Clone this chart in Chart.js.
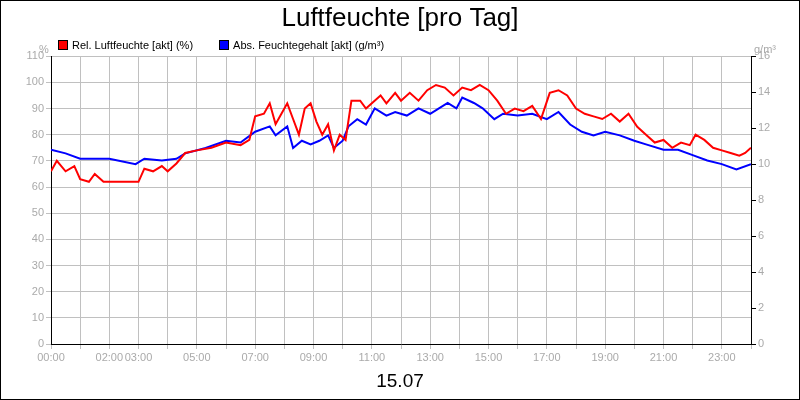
<!DOCTYPE html>
<html><head><meta charset="utf-8">
<script src="https://cdn.jsdelivr.net/npm/chart.js@4"></script>
<style>html,body{margin:0;padding:0;background:#fff}#w{width:798px;height:398px;border:1px solid #000;position:relative;font-family:"Liberation Sans",Arial}
#lg{position:absolute;left:57px;top:38px;font-size:11px;color:#000;white-space:nowrap}
#lg span.b{display:inline-block;width:8px;height:8px;border:1px solid #000;margin-right:4px;vertical-align:-1px}
.u{position:absolute;top:42px;font-size:11px;color:#aaa}
</style>
</head><body><div id="w"><canvas id="c" width="798" height="398"></canvas>
<div id="lg"><span class="b" style="background:#f00"></span>Rel. Luftfeuchte [akt] (%)<span style="display:inline-block;width:26px"></span><span class="b" style="background:#00f"></span>Abs. Feuchtegehalt [akt] (g/m³)</div>
<div class="u" style="left:38px">%</div><div class="u" style="left:753px">g/m³</div></div>
<script>
const relHours=[0,0.2,0.5,0.8,1.0,1.3,1.5,1.8,2.5,3.0,3.2,3.5,3.8,4.0,4.3,4.6,5.0,5.5,6.0,6.5,6.8,7.0,7.3,7.5,7.7,7.9,8.1,8.3,8.5,8.7,8.9,9.1,9.3,9.5,9.7,9.9,10.1,10.3,10.6,10.8,11.0,11.3,11.5,11.8,12.0,12.3,12.6,12.9,13.2,13.5,13.8,14.1,14.4,14.7,15.0,15.3,15.6,15.9,16.2,16.5,16.8,17.1,17.4,17.7,18.0,18.3,18.6,18.9,19.2,19.5,19.8,20.1,20.4,20.7,21.0,21.3,21.6,21.9,22.1,22.4,22.7,23.0,23.3,23.6,23.8,24];
const relValues=[66,70,66,68,63,62,65,62,62,62,67,66,68,66,69,73,74,75,77,76,78,87,88,92,84,88,92,86,80,90,92,85,80,84,74,80,78,93,93,90,92,95,92,96,93,96,93,97,99,98,95,98,97,99,97,93,88,90,89,91,86,96,97,95,90,88,87,86,88,85,88,83,80,77,78,75,77,76,80,78,75,74,73,72,73,75];
const absHours=[0,0.5,1.0,2.0,2.9,3.2,3.8,4.3,4.6,5.3,6.0,6.5,7.0,7.5,7.7,8.1,8.3,8.6,8.9,9.2,9.5,9.7,10,10.2,10.5,10.8,11.1,11.5,11.8,12.2,12.6,13.0,13.3,13.6,13.9,14.1,14.5,14.8,15.2,15.5,16.0,16.5,17.0,17.4,17.8,18.2,18.6,19.0,19.5,20.0,20.4,21.0,21.5,22.0,22.5,23.0,23.5,24];
const absValues=[10.8,10.6,10.3,10.3,10.0,10.3,10.2,10.3,10.6,10.9,11.3,11.2,11.8,12.1,11.6,12.1,10.9,11.3,11.1,11.3,11.6,10.9,11.3,12.1,12.5,12.2,13.1,12.7,12.9,12.7,13.1,12.8,13.1,13.4,13.1,13.7,13.4,13.1,12.5,12.8,12.7,12.8,12.5,12.9,12.2,11.8,11.6,11.8,11.6,11.3,11.1,10.8,10.8,10.5,10.2,10.0,9.7,10.0];
const labeledHours=[0,2,3,5,7,9,11,13,15,17,19,21,23];
const tickFont={family:'"Liberation Sans", Arial',size:11};
new Chart(document.getElementById('c'),{
 type:'line',
 data:{datasets:[
  {label:'Rel. Luftfeuchte [akt] (%)',data:relHours.map((h,i)=>({x:h,y:relValues[i]})),borderColor:'#ff0000',borderWidth:2,pointRadius:0,yAxisID:'y'},
  {label:'Abs. Feuchtegehalt [akt] (g/m³)',data:absHours.map((h,i)=>({x:h,y:absValues[i]})),borderColor:'#0000ff',borderWidth:2,pointRadius:0,yAxisID:'y2'}
 ]},
 options:{responsive:false,animation:false,
  plugins:{
   title:{display:true,text:'Luftfeuchte [pro Tag]',color:'#000',font:{family:'"Liberation Sans", Arial',size:26,weight:'normal'},padding:{top:2,bottom:22}},
   subtitle:{display:true,position:'bottom',text:'15.07',color:'#000',font:{family:'"Liberation Sans", Arial',size:19},padding:{top:4,bottom:6}},
   legend:{display:false},
   tooltip:{enabled:false}
  },
  scales:{
   x:{type:'linear',min:0,max:24,
     ticks:{stepSize:1,autoSkip:false,maxRotation:0,color:'#aaa',font:tickFont,padding:2,
       callback:v=>labeledHours.includes(v)?String(v).padStart(2,'0')+':00':''},
     grid:{color:'#c0c0c0',tickLength:5},border:{color:'#000'}},
   y:{position:'left',min:0,max:110,ticks:{stepSize:10,color:'#aaa',font:tickFont,padding:2},
     grid:{color:'#c0c0c0',tickLength:5},border:{color:'#000'},afterFit:s=>{s.width=50;}},
   y2:{position:'right',min:0,max:16,ticks:{stepSize:2,color:'#aaa',font:tickFont,padding:2},
     grid:{drawOnChartArea:false,tickLength:5,color:'#000'},border:{color:'#000'},afterFit:s=>{s.width=48;}}
  }
 }
});
</script></body></html>
